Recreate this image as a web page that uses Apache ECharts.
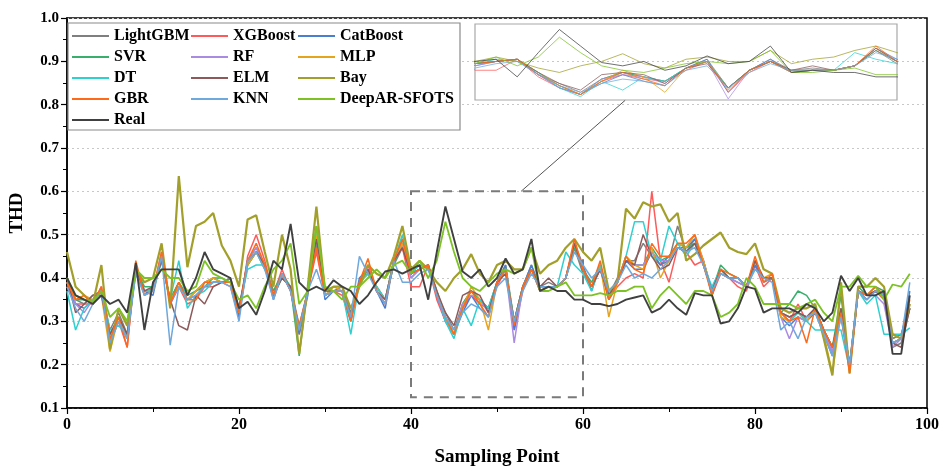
<!DOCTYPE html>
<html>
<head>
<meta charset="utf-8">
<script src="https://cdn.jsdelivr.net/npm/echarts@6/dist/echarts.min.js"></script>
<style>html,body{margin:0;padding:0;background:#fff}#c{width:942px;height:472px}</style>
</head>
<body>
<div id="c"></div>
<script>
const seriesNames = ['LightGBM','XGBoost','CatBoost','SVR','RF','MLP','DT','ELM','Bay','GBR','KNN','DeepAR-SFOTS','Real'];
const xTicks = [0,20,40,60,80,100];

const lightgbm = [0.40,0.35,0.34,0.36,0.37,0.28,0.32,0.27,0.42,0.36,
0.38,0.44,0.35,0.39,0.35,0.37,0.39,0.40,0.39,0.40,
0.33,0.43,0.46,0.43,0.37,0.40,0.38,0.29,0.37,0.48,
0.37,0.37,0.38,0.32,0.39,0.41,0.38,0.35,0.43,0.47,
0.41,0.42,0.43,0.36,0.32,0.28,0.34,0.37,0.35,0.33,
0.39,0.43,0.30,0.38,0.43,0.38,0.39,0.38,0.40,0.47,
0.41,0.38,0.42,0.36,0.40,0.44,0.44,0.48,0.45,0.43,
0.44,0.52,0.46,0.49,0.44,0.37,0.41,0.40,0.40,0.38,
0.44,0.39,0.40,0.32,0.31,0.32,0.31,0.33,0.28,0.24,
0.33,0.20,0.37,0.36,0.37,0.36,0.24,0.25,0.33];
const xgboost = [0.38,0.34,0.34,0.34,0.38,0.25,0.30,0.24,0.43,0.37,
0.37,0.46,0.34,0.38,0.34,0.35,0.38,0.38,0.39,0.38,
0.31,0.45,0.50,0.44,0.36,0.42,0.37,0.27,0.37,0.46,
0.36,0.37,0.36,0.30,0.39,0.43,0.37,0.34,0.44,0.47,
0.38,0.38,0.43,0.35,0.30,0.27,0.33,0.36,0.34,0.33,
0.38,0.42,0.28,0.37,0.42,0.37,0.38,0.38,0.40,0.47,
0.42,0.38,0.42,0.35,0.38,0.40,0.41,0.40,0.60,0.44,
0.39,0.47,0.46,0.43,0.44,0.36,0.41,0.40,0.38,0.37,
0.43,0.38,0.40,0.32,0.30,0.34,0.30,0.33,0.27,0.23,
0.31,0.19,0.37,0.35,0.37,0.35,0.26,0.27,0.34];
const catboost = [0.39,0.34,0.33,0.35,0.37,0.25,0.30,0.26,0.42,0.37,
0.36,0.45,0.34,0.38,0.35,0.36,0.38,0.39,0.39,0.39,
0.31,0.44,0.47,0.43,0.35,0.41,0.37,0.27,0.36,0.50,
0.35,0.37,0.37,0.30,0.40,0.42,0.37,0.33,0.44,0.48,
0.40,0.42,0.43,0.36,0.30,0.27,0.32,0.36,0.33,0.31,
0.39,0.43,0.28,0.38,0.43,0.37,0.38,0.38,0.40,0.48,
0.43,0.37,0.43,0.35,0.39,0.44,0.42,0.42,0.46,0.43,
0.45,0.47,0.47,0.49,0.44,0.36,0.42,0.40,0.39,0.38,
0.43,0.40,0.40,0.31,0.29,0.31,0.30,0.32,0.27,0.22,
0.32,0.19,0.37,0.35,0.37,0.36,0.25,0.26,0.37];
const svr = [0.40,0.35,0.35,0.35,0.37,0.27,0.31,0.26,0.42,0.38,
0.38,0.44,0.35,0.39,0.36,0.37,0.38,0.40,0.40,0.39,
0.33,0.43,0.46,0.42,0.37,0.41,0.38,0.22,0.38,0.52,
0.37,0.37,0.37,0.31,0.39,0.41,0.38,0.35,0.43,0.49,
0.41,0.42,0.43,0.37,0.31,0.27,0.34,0.37,0.35,0.33,
0.39,0.42,0.30,0.38,0.42,0.38,0.38,0.38,0.40,0.47,
0.42,0.39,0.43,0.36,0.39,0.45,0.43,0.43,0.47,0.44,
0.45,0.48,0.47,0.48,0.43,0.37,0.43,0.41,0.40,0.38,
0.44,0.40,0.40,0.32,0.34,0.37,0.36,0.33,0.28,0.24,
0.36,0.19,0.38,0.36,0.38,0.37,0.26,0.27,0.33];
const rf = [0.39,0.34,0.32,0.35,0.37,0.26,0.30,0.26,0.42,0.37,
0.37,0.45,0.34,0.38,0.35,0.36,0.38,0.39,0.39,0.39,
0.32,0.44,0.47,0.43,0.36,0.41,0.37,0.28,0.37,0.49,
0.36,0.37,0.37,0.31,0.39,0.42,0.37,0.34,0.44,0.48,
0.40,0.42,0.43,0.36,0.30,0.27,0.34,0.36,0.35,0.32,
0.39,0.42,0.25,0.38,0.42,0.38,0.38,0.38,0.40,0.48,
0.42,0.38,0.43,0.36,0.39,0.44,0.43,0.43,0.46,0.44,
0.44,0.48,0.47,0.50,0.44,0.37,0.42,0.40,0.39,0.38,
0.44,0.40,0.40,0.31,0.26,0.31,0.30,0.33,0.27,0.23,
0.32,0.19,0.37,0.36,0.36,0.34,0.24,0.26,0.33];
const mlp = [0.39,0.35,0.36,0.35,0.36,0.23,0.31,0.26,0.42,0.37,
0.37,0.44,0.35,0.38,0.35,0.37,0.39,0.40,0.39,0.39,
0.32,0.43,0.46,0.43,0.36,0.40,0.38,0.28,0.37,0.50,
0.36,0.38,0.37,0.31,0.38,0.42,0.38,0.35,0.44,0.48,
0.41,0.42,0.43,0.37,0.31,0.27,0.33,0.38,0.35,0.28,
0.39,0.42,0.30,0.38,0.42,0.38,0.38,0.38,0.40,0.48,
0.42,0.38,0.43,0.31,0.39,0.45,0.43,0.42,0.47,0.40,
0.44,0.48,0.47,0.50,0.44,0.37,0.42,0.40,0.40,0.38,
0.44,0.40,0.41,0.31,0.30,0.32,0.30,0.33,0.27,0.18,
0.32,0.19,0.37,0.36,0.38,0.36,0.25,0.26,0.33];
const dt = [0.37,0.28,0.33,0.35,0.37,0.28,0.29,0.27,0.41,0.37,
0.37,0.44,0.35,0.44,0.33,0.36,0.37,0.39,0.39,0.39,
0.33,0.42,0.43,0.43,0.36,0.40,0.38,0.28,0.37,0.52,
0.36,0.37,0.37,0.27,0.39,0.41,0.38,0.35,0.44,0.50,
0.41,0.43,0.42,0.37,0.30,0.26,0.33,0.29,0.35,0.33,
0.39,0.42,0.30,0.38,0.42,0.37,0.38,0.38,0.46,0.43,
0.41,0.37,0.43,0.36,0.39,0.45,0.53,0.53,0.45,0.44,
0.52,0.48,0.45,0.48,0.43,0.38,0.42,0.40,0.40,0.38,
0.42,0.40,0.40,0.32,0.30,0.32,0.30,0.28,0.28,0.28,
0.28,0.19,0.37,0.34,0.36,0.27,0.27,0.27,0.285];
const elm = [0.40,0.32,0.34,0.36,0.36,0.27,0.31,0.27,0.42,0.37,
0.38,0.44,0.35,0.29,0.28,0.36,0.34,0.38,0.39,0.39,
0.33,0.44,0.46,0.43,0.36,0.40,0.38,0.28,0.37,0.49,
0.37,0.37,0.37,0.31,0.39,0.42,0.37,0.35,0.44,0.47,
0.41,0.42,0.43,0.37,0.32,0.29,0.36,0.37,0.36,0.32,
0.39,0.41,0.30,0.38,0.42,0.38,0.40,0.38,0.40,0.48,
0.42,0.38,0.42,0.36,0.39,0.44,0.43,0.50,0.45,0.42,
0.43,0.47,0.46,0.48,0.43,0.37,0.42,0.40,0.40,0.38,
0.44,0.40,0.40,0.32,0.31,0.32,0.31,0.33,0.28,0.24,
0.33,0.20,0.37,0.36,0.37,0.36,0.25,0.24,0.33];
const bay = [0.46,0.38,0.36,0.34,0.43,0.235,0.33,0.29,0.42,0.39,
0.40,0.48,0.33,0.635,0.425,0.52,0.53,0.55,0.475,0.44,
0.38,0.535,0.545,0.46,0.38,0.50,0.42,0.225,0.38,0.565,
0.37,0.38,0.38,0.33,0.38,0.43,0.41,0.40,0.45,0.52,
0.42,0.44,0.42,0.39,0.37,0.40,0.42,0.455,0.41,0.39,
0.43,0.44,0.42,0.42,0.47,0.41,0.43,0.44,0.47,0.49,
0.46,0.44,0.47,0.37,0.39,0.56,0.537,0.575,0.565,0.57,
0.53,0.55,0.44,0.455,0.475,0.49,0.505,0.47,0.46,0.455,
0.48,0.42,0.41,0.33,0.32,0.33,0.33,0.34,0.26,0.175,
0.39,0.18,0.38,0.38,0.40,0.38,0.27,0.26,0.34];
const gbr = [0.39,0.35,0.36,0.34,0.38,0.26,0.31,0.24,0.44,0.36,
0.37,0.46,0.34,0.39,0.35,0.35,0.39,0.39,0.39,0.39,
0.32,0.44,0.48,0.43,0.36,0.41,0.37,0.29,0.37,0.47,
0.36,0.37,0.37,0.30,0.39,0.445,0.37,0.34,0.44,0.49,
0.41,0.42,0.43,0.36,0.31,0.27,0.33,0.37,0.34,0.31,
0.39,0.42,0.29,0.38,0.42,0.37,0.38,0.38,0.40,0.49,
0.42,0.38,0.44,0.35,0.39,0.45,0.42,0.41,0.48,0.45,
0.45,0.48,0.48,0.50,0.43,0.36,0.42,0.41,0.40,0.38,
0.45,0.39,0.41,0.32,0.30,0.31,0.25,0.33,0.28,0.24,
0.32,0.18,0.37,0.36,0.38,0.36,0.25,0.26,0.35];
const knn = [0.38,0.33,0.30,0.34,0.37,0.25,0.30,0.26,0.41,0.36,
0.37,0.45,0.245,0.38,0.35,0.36,0.38,0.39,0.39,0.38,
0.30,0.44,0.46,0.42,0.35,0.41,0.37,0.28,0.37,0.42,
0.36,0.37,0.37,0.31,0.45,0.41,0.37,0.34,0.44,0.39,
0.39,0.41,0.42,0.36,0.31,0.28,0.32,0.34,0.33,0.31,
0.38,0.40,0.30,0.37,0.41,0.38,0.38,0.38,0.40,0.46,
0.43,0.40,0.42,0.37,0.39,0.43,0.40,0.41,0.40,0.42,
0.44,0.47,0.46,0.47,0.43,0.37,0.41,0.40,0.40,0.38,
0.42,0.40,0.39,0.28,0.30,0.26,0.31,0.32,0.27,0.22,
0.31,0.20,0.37,0.35,0.37,0.36,0.25,0.26,0.39];
const sfots = [0.40,0.36,0.35,0.345,0.37,0.31,0.33,0.30,0.42,0.40,
0.40,0.42,0.40,0.40,0.37,0.38,0.44,0.41,0.40,0.39,
0.35,0.36,0.33,0.38,0.42,0.44,0.48,0.34,0.37,0.52,
0.38,0.37,0.35,0.38,0.38,0.40,0.42,0.40,0.43,0.44,
0.41,0.44,0.40,0.44,0.53,0.46,0.40,0.38,0.37,0.39,
0.41,0.42,0.41,0.42,0.47,0.37,0.37,0.38,0.39,0.36,
0.36,0.36,0.365,0.36,0.37,0.37,0.38,0.38,0.33,0.36,
0.38,0.36,0.34,0.37,0.37,0.36,0.31,0.32,0.34,0.40,
0.38,0.34,0.34,0.34,0.34,0.33,0.34,0.35,0.32,0.30,
0.38,0.38,0.405,0.38,0.38,0.35,0.385,0.38,0.41];
const real = [0.40,0.36,0.35,0.34,0.36,0.34,0.35,0.32,0.435,0.28,
0.39,0.42,0.42,0.42,0.36,0.40,0.46,0.42,0.41,0.40,
0.33,0.345,0.315,0.37,0.44,0.42,0.525,0.39,0.37,0.38,
0.37,0.395,0.38,0.37,0.34,0.36,0.39,0.415,0.42,0.41,
0.42,0.43,0.35,0.46,0.565,0.49,0.415,0.40,0.42,0.38,
0.40,0.445,0.41,0.42,0.49,0.37,0.38,0.37,0.37,0.35,
0.35,0.34,0.34,0.335,0.34,0.35,0.355,0.36,0.32,0.33,
0.35,0.33,0.315,0.365,0.36,0.36,0.295,0.30,0.33,0.38,
0.375,0.32,0.33,0.33,0.33,0.32,0.34,0.33,0.30,0.32,
0.405,0.37,0.40,0.36,0.36,0.37,0.225,0.225,0.36];

const seriesValues = [lightgbm,xgboost,catboost,svr,rf,mlp,dt,elm,bay,gbr,knn,sfots,real];
const seriesColors = ['#7f7f7f','#ff5a5a','#4a7fd0','#3aae6c','#a98be4','#e6a31c','#2fd0d0','#8c5a5a','#a2a02a','#ff6a1a','#6fa8dc','#7cc224','#404040'];
const seriesWidths = [1.5,1.5,1.5,1.5,1.5,1.5,1.5,1.5,2.2,1.5,1.5,1.8,1.9];

const FONT = "'Liberation Serif','Times New Roman',serif";
const chart = echarts.init(document.getElementById('c'), null, {renderer:'canvas'});

const series = [];
seriesNames.forEach((n, k) => {
  const d = seriesValues[k].map((v, i) => [i, v]);
  const s = {
    name: n, type: 'line', data: d, symbol: 'none', xAxisIndex: 0, yAxisIndex: 0,
    lineStyle: {color: seriesColors[k], width: seriesWidths[k]},
    itemStyle: {color: seriesColors[k]}, animation: false, z: 2
  };
  if (n === 'Real') {
    s.markArea = {silent: true, itemStyle: {color: 'rgba(0,0,0,0)', borderColor: '#7a7a7a', borderWidth: 2, borderType: [9, 7]},
      data: [[{coord: [40, 0.6]}, {coord: [60, 0.125]}]]};
    s.markLine = {silent: true, symbol: ['none', 'arrow'], symbolSize: [0, 9], label: {show: false},
      lineStyle: {color: '#555', width: 1, type: 'solid'},
      data: [[{coord: [52.8, 0.6]}, {coord: [64.9, 0.81]}]]};
  }
  series.push(s);
  series.push({
    name: n, type: 'line', data: d, symbol: 'none', xAxisIndex: 1, yAxisIndex: 1,
    lineStyle: {color: seriesColors[k], width: 1, opacity: 0.75}, itemStyle: {color: seriesColors[k]},
    animation: false, silent: true, z: 5
  });
});

const legendCommon = {
  orient: 'vertical', icon: 'rect', itemWidth: 37, itemHeight: 2, itemGap: 5, padding: 0, z: 6,
  textStyle: {fontFamily: FONT, fontWeight: 'bold', fontSize: 16, color: '#000', padding: [0, 0, 0, 0]},
  selectedMode: false
};

chart.setOption({
  backgroundColor: '#fff',
  animation: false,
  textStyle: {fontFamily: FONT},
  grid: [
    {left: 67, right: 13, top: 18, bottom: 64, show: true, borderColor: '#000', borderWidth: 1.5, backgroundColor: 'transparent'},
    {left: 475, top: 24, width: 422, height: 76, show: true, borderColor: '#a8a8a8', borderWidth: 1.2, backgroundColor: 'transparent', z: 5}
  ],
  xAxis: [
    {type: 'value', gridIndex: 0, min: 0, max: 100, interval: 20,
     name: 'Sampling Point', nameLocation: 'middle', nameGap: 40,
     nameTextStyle: {fontFamily: FONT, fontWeight: 'bold', fontSize: 19, color: '#000'},
     axisLine: {lineStyle: {color: '#000', width: 1.5}},
     axisTick: {length: 6, lineStyle: {color: '#000', width: 1.2}},
     minorTick: {show: true, splitNumber: 2, length: 4, lineStyle: {color: '#000', width: 1}},
     splitLine: {show: false},
     axisLabel: {fontFamily: FONT, fontWeight: 'bold', fontSize: 16, color: '#000', margin: 9,
       formatter: v => xTicks.includes(v) ? String(v) : ''}},
    {type: 'value', gridIndex: 1, min: 40, max: 60, show: false}
  ],
  yAxis: [
    {type: 'value', gridIndex: 0, min: 0.1, max: 1.0, interval: 0.1,
     name: 'THD', nameLocation: 'middle', nameGap: 40, nameRotate: 90,
     nameTextStyle: {fontFamily: FONT, fontWeight: 'bold', fontSize: 19, color: '#000'},
     axisLine: {show: true, lineStyle: {color: '#000', width: 1.5}},
     axisTick: {show: true, length: 6, lineStyle: {color: '#000', width: 1.2}},
     minorTick: {show: true, splitNumber: 2, length: 4, lineStyle: {color: '#000', width: 1}},
     splitLine: {show: true, lineStyle: {color: '#c8c8c8', type: [2, 3], width: 1}},
     axisLabel: {fontFamily: FONT, fontWeight: 'bold', fontSize: 15, color: '#000', margin: 8,
       formatter: v => v.toFixed(1)}},
    {type: 'value', gridIndex: 1, min: 0.245, max: 0.59, show: false}
  ],
  legend: [
    Object.assign({left: 72, top: 28, data: ['LightGBM','SVR','DT','GBR','Real']}, legendCommon),
    Object.assign({left: 191, top: 28, data: ['XGBoost','RF','ELM','KNN']}, legendCommon),
    Object.assign({left: 298, top: 28, data: ['CatBoost','MLP','Bay','DeepAR-SFOTS']}, legendCommon)
  ],
  graphic: [
    {type: 'rect', shape: {x: 68, y: 23, width: 392, height: 107}, z: 5,
     style: {fill: '#fff', stroke: '#8a8a8a', lineWidth: 1.2}}
  ],
  series: series
});
</script>
</body>
</html>
